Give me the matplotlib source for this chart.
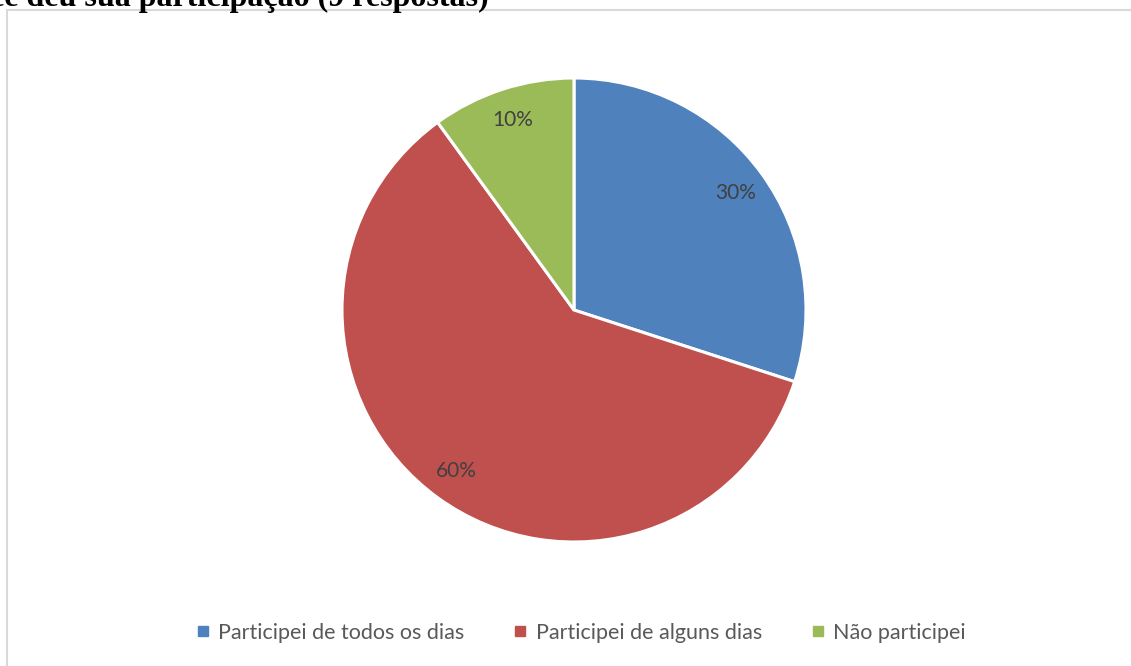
import matplotlib
matplotlib.use("Agg")
import matplotlib.pyplot as plt
import numpy as np
from matplotlib.patches import Rectangle
from matplotlib.lines import Line2D

# data
categories = ["Participei de todos os dias", "Participei de alguns dias", "Não participei"]
shares = [30, 60, 10]
pct_labels = ["30%", "60%", "10%"]
colors = ["#4F81BD", "#C0504D", "#9BBB59"]
title_text = "você deu sua participação (9 respostas)"

W, H = 1131, 666
fig = plt.figure(figsize=(W / 100, H / 100), dpi=100)
fig.patch.set_facecolor("white")

# chart frame (light gray, runs off right/bottom)
fig.add_artist(Rectangle((7 / W, -0.05), 1.1, 1 - 10 / H + 0.05,
                         transform=fig.transFigure, fill=False,
                         edgecolor="#D9D9D9", linewidth=1.5))

# caption above the chart, cut by the top edge as in the source
fig.text(489 / W, 1 - 6 / H, title_text, ha="right", va="baseline",
         family="Liberation Serif", fontweight="bold", fontsize=23, color="black")

# pie: centre (574, 310) px, radius 232 px
cx, cy, r = 574, 310, 232
ax = fig.add_axes([(cx - r) / W, (H - cy - r) / H, 2 * r / W, 2 * r / H])
wedges, texts = ax.pie(shares, colors=colors, startangle=90, counterclock=False,
                       radius=1, wedgeprops=dict(edgecolor="white", linewidth=2.2))
for w, lab in zip(wedges, pct_labels):
    ang = np.deg2rad((w.theta1 + w.theta2) / 2)
    ax.text(0.86 * np.cos(ang), 0.86 * np.sin(ang), lab, ha="center", va="center",
            fontsize=15, color="#404040", family="Lato")
ax.set_xlim(-1, 1)
ax.set_ylim(-1, 1)
ax.axis("off")

handles = [Line2D([], [], marker="s", linestyle="none", markersize=7,
                  markerfacecolor=c, markeredgecolor=c) for c in colors]
fig.legend(handles, categories, loc="center", bbox_to_anchor=(580 / W, 1 - 633 / H),
           ncol=3, frameon=False, handletextpad=0.3, columnspacing=2.2,
           handlelength=0.8, prop=dict(family="Lato", size=15.5),
           labelcolor="#595959")

fig.savefig("out.png", dpi=100)
